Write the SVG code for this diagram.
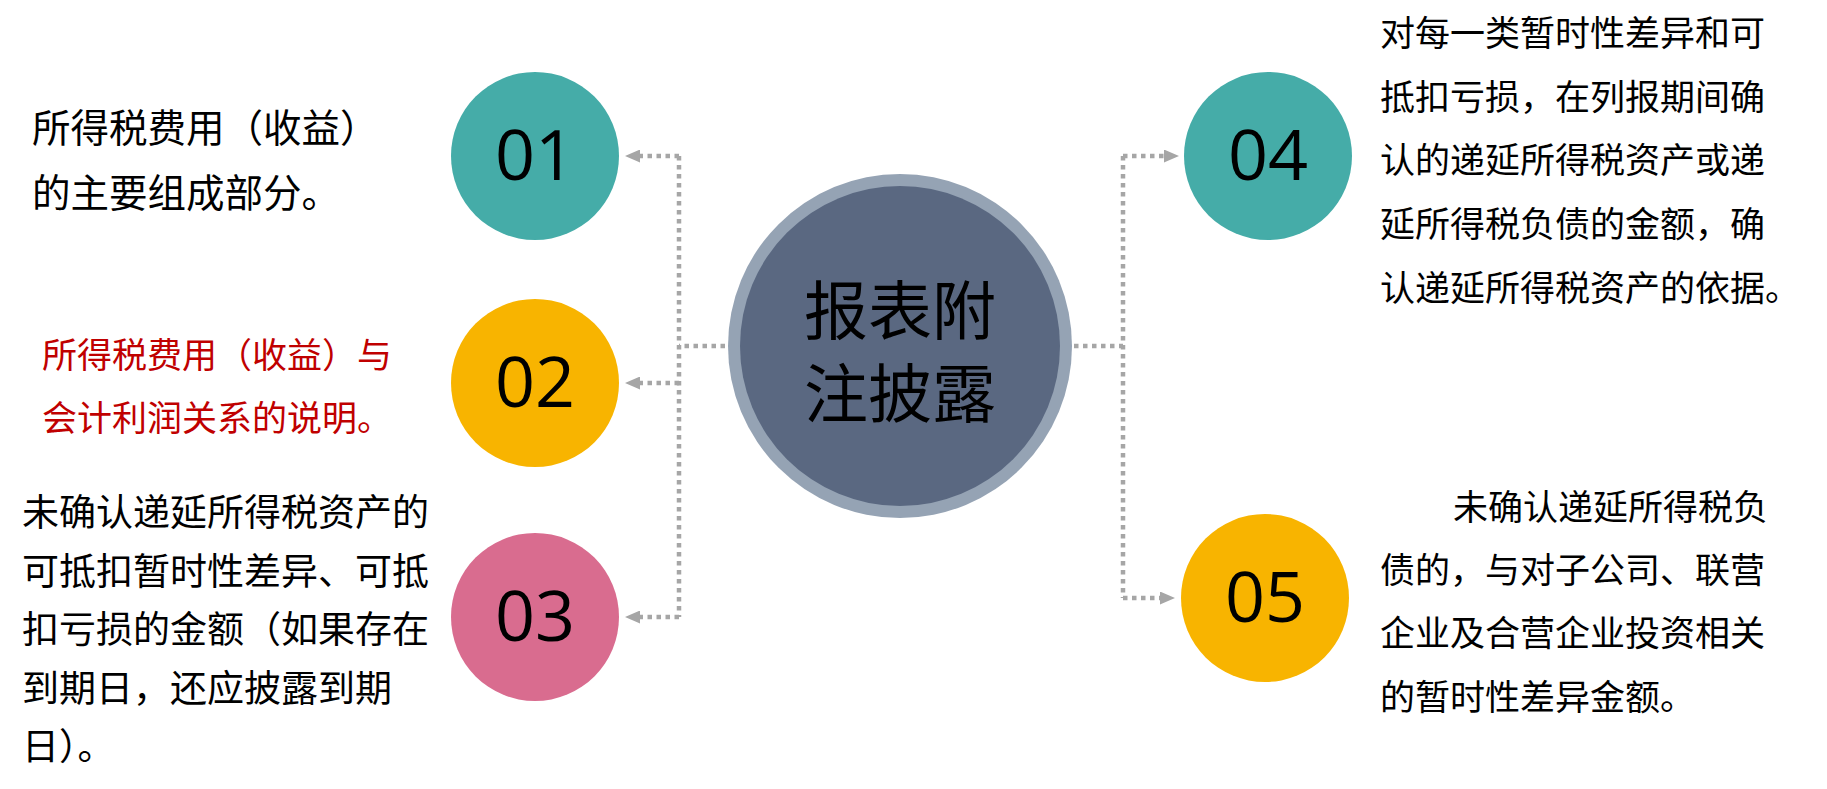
<svg xmlns="http://www.w3.org/2000/svg" width="1827" height="789" viewBox="0 0 1827 789">
<style>
.txt{font-family:"Noto Sans CJK SC","Noto Sans",sans-serif;fill:#000}
.red{fill:#c00000}
.num{font-family:"Open Sans","Noto Sans",sans-serif;font-size:70px;fill:#000;text-anchor:middle}
.conn{fill:none;stroke:#a6a6a6;stroke-width:4.5;stroke-dasharray:4.5 4.5}
</style>
<defs>
<marker id="arr" markerUnits="userSpaceOnUse" markerWidth="15" markerHeight="13" refX="0" refY="6.5" orient="auto">
<path d="M0,0 L15,6.5 L0,13 z" fill="#a6a6a6"/>
</marker>
</defs>
<rect width="1827" height="789" fill="#fff"/>
<g id="connectors">
<path class="conn" d="M725,346 H679"/>
<path class="conn" d="M679,156 V617"/>
<path class="conn" d="M679,156 H640" marker-end="url(#arr)"/>
<path class="conn" d="M679,383 H640" marker-end="url(#arr)"/>
<path class="conn" d="M679,617 H640" marker-end="url(#arr)"/>
<path class="conn" d="M1074,346 H1123"/>
<path class="conn" d="M1123,156 V598"/>
<path class="conn" d="M1123,156 H1164" marker-end="url(#arr)"/>
<path class="conn" d="M1123,598 H1160" marker-end="url(#arr)"/>
</g>
<g id="center">
<circle cx="900" cy="346" r="172" fill="#95a3b4"/>
<circle cx="900" cy="346" r="160" fill="#5a6881"/>
<text class="txt" x="900" y="334" font-size="64" text-anchor="middle">报表附</text>
<text class="txt" x="900" y="417" font-size="64" text-anchor="middle">注披露</text>
</g>
<g id="node01">
<circle cx="535" cy="156" r="84" fill="#45aca8"/>
<text class="num" x="535" y="180">01</text>
</g>
<g id="node02">
<circle cx="535" cy="383" r="84" fill="#f8b400"/>
<text class="num" x="535" y="407">02</text>
</g>
<g id="node03">
<circle cx="535" cy="617" r="84" fill="#d96c8f"/>
<text class="num" x="535" y="641">03</text>
</g>
<g id="node04">
<circle cx="1268" cy="156" r="84" fill="#45aca8"/>
<text class="num" x="1268" y="180">04</text>
</g>
<g id="node05">
<circle cx="1265" cy="598" r="84" fill="#f8b400"/>
<text class="num" x="1265" y="622">05</text>
</g>
<g id="text01" class="txt" font-size="38.5">
<text x="32" y="142">所得税费用（收益）</text>
<text x="32" y="207">的主要组成部分。</text>
</g>
<g id="text02" class="txt red" font-size="35">
<text class="txt red" x="42" y="368">所得税费用（收益）与</text>
<text class="txt red" x="42" y="431">会计利润关系的说明。</text>
</g>
<g id="text03" class="txt" font-size="37">
<text x="22" y="526">未确认递延所得税资产的</text>
<text x="22" y="584.5">可抵扣暂时性差异、可抵</text>
<text x="22" y="643">扣亏损的金额（如果存在</text>
<text x="22" y="701.5">到期日，还应披露到期</text>
<text x="22" y="760">日）。</text>
</g>
<g id="text04" class="txt" font-size="35">
<text x="1380" y="46">对每一类暂时性差异和可</text>
<text x="1380" y="110">抵扣亏损，在列报期间确</text>
<text x="1380" y="173">认的递延所得税资产或递</text>
<text x="1380" y="237">延所得税负债的金额，确</text>
<text x="1380" y="301">认递延所得税资产的依据。</text>
</g>
<g id="text05" class="txt" font-size="35">
<text x="1453" y="520">未确认递延所得税负</text>
<text x="1380" y="583">债的，与对子公司、联营</text>
<text x="1380" y="646">企业及合营企业投资相关</text>
<text x="1380" y="710">的暂时性差异金额。</text>
</g>
</svg>
